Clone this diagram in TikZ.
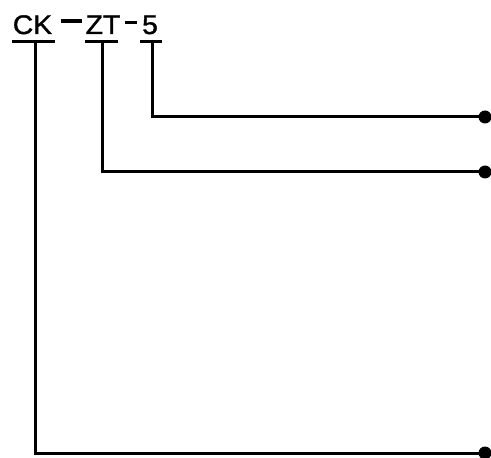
\documentclass[tikz,border=0pt]{standalone}
\usepackage{fontspec}
\setmainfont{Liberation Sans}
\newfontfamily\lblfont[FakeStretch=1.05,FakeBold=1.4]{Liberation Sans}
\begin{document}
\begin{tikzpicture}[x=1bp,y=-1bp,
  wire/.style={line width=3bp},
  uline/.style={line width=3bp},
  lbl/.style={inner sep=0pt,anchor=base,font=\lblfont\fontsize{27}{27}\selectfont},
  hyph/.style={fill=black,inner sep=0pt,minimum height=3bp},
  term/.style={circle,fill=black,inner sep=0pt,minimum size=13bp}]
\useasboundingbox (0,0) rectangle (491,458);
% labels
\node[lbl] (ck) at (32.5,34) {CK};
\node[hyph,minimum width=21bp,minimum height=4bp] (h1) at (71,21.5) {};
\node[lbl] (zt) at (103,34) {ZT};
\node[hyph,minimum width=12bp,minimum height=3bp] (h2) at (131,23) {};
\node[lbl] (five) at (150,34) {5};
% underlines
\coordinate (ckL) at (12,42); \coordinate (ckR) at (55,42);
\coordinate (ztL) at (85,42); \coordinate (ztR) at (118,42);
\coordinate (fL) at (140,42); \coordinate (fR) at (162,42);
\draw[uline] (ckL) -- (ckR);
\draw[uline] (ztL) -- (ztR);
\draw[uline] (fL) -- (fR);
% stems
\coordinate (ckT) at (35,42);
\coordinate (ztT) at (102,42);
\coordinate (fT) at (152,42);
% terminals
\node[term] (t1) at (485,117) {};
\node[term] (t2) at (485,172) {};
\node[term] (t3) at (485,453) {};
\draw[wire] (fT) |- (t1.center);
\draw[wire] (ztT) |- (t2.center);
\draw[wire] (ckT) |- (t3.center);
\end{tikzpicture}
\end{document}
